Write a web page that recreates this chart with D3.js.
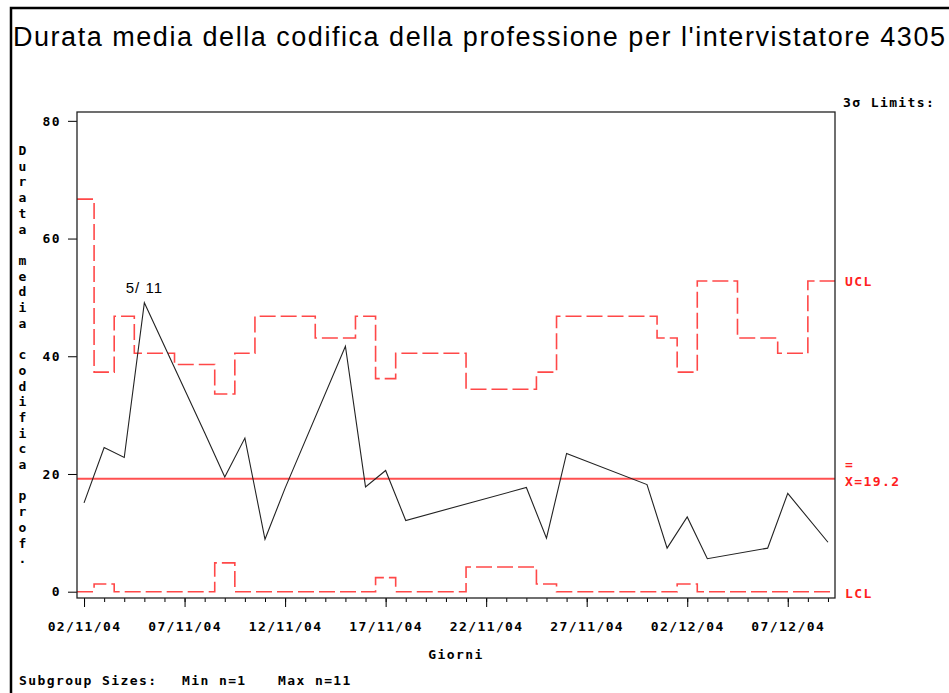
<!DOCTYPE html>
<html>
<head>
<meta charset="utf-8">
<script src="https://cdn.jsdelivr.net/npm/d3@7"></script>
<style>
  body { margin: 0; background: #fff; }
  svg { display: block; }
  .sas { font-family: "DejaVu Sans Mono", monospace; font-weight: bold; font-size: 13px; letter-spacing: 1.4px; }
</style>
</head>
<body>
<div id="chart"></div>
<script>
// Subgroup dates (dd/mm/yy)
const subgroups = ["02/11/04", "03/11/04", "04/11/04", "05/11/04", "08/11/04", "09/11/04",
  "10/11/04", "11/11/04", "12/11/04", "15/11/04", "16/11/04", "17/11/04", "18/11/04",
  "24/11/04", "25/11/04", "26/11/04", "30/11/04", "01/12/04", "02/12/04", "03/12/04",
  "06/12/04", "07/12/04", "09/12/04"];
// Subgroup means
const means = [15.1, 24.5, 22.8, 49.1, 27.0, 19.5, 26.1, 8.9, 17.6, 41.7, 17.8, 20.6, 12.1,
  17.7, 9.1, 23.5, 18.2, 7.4, 12.7, 5.6, 7.4, 16.7, 8.4];
// 3 sigma limits per subgroup
const ucl = [66.7, 37.3, 46.8, 40.5, 38.6, 33.6, 40.5, 46.8, 46.8, 43.1, 46.8, 36.2, 40.5,
  34.4, 37.3, 46.8, 46.8, 43.1, 37.3, 52.8, 43.1, 40.5, 52.8];
const lcl = [0, 1.3, 0, 0, 0, 4.9, 0, 0, 0, 0, 0, 2.4, 0,
  4.2, 1.3, 0, 0, 0, 1.3, 0, 0, 0, 0];
const centerLine = 19.2;
const yTicks = [0, 20, 40, 60, 80];

const width = 949;
const height = 693;
const plot = { left: 77, top: 112, right: 835, bottom: 598 };

const parse = d3.timeParse("%d/%m/%y");
const dates = subgroups.map(parse);
const firstDay = dates[0];
const lastDay = dates[dates.length - 1];
const pad = 0.35 * 864e5;

const x = d3.scaleTime()
  .domain([new Date(+firstDay - pad), new Date(+lastDay + pad)])
  .range([plot.left, plot.right]);
const y = d3.scaleLinear()
  .domain([-1.07, 81.5])
  .range([plot.bottom, plot.top]);

const svg = d3.select("#chart").append("svg")
  .attr("width", width)
  .attr("height", height);

// outer frame (cropped on the right and bottom)
svg.append("path")
  .attr("d", `M11,${height} V8 H${width}`)
  .attr("fill", "none")
  .attr("stroke", "#000")
  .attr("stroke-width", 2.5);

// title
svg.append("text")
  .attr("x", 13)
  .attr("y", 46)
  .attr("textLength", 932)
  .attr("lengthAdjust", "spacing")
  .style("font-family", "'Liberation Sans', Arial, sans-serif")
  .style("font-size", "27px")
  .text("Durata media della codifica della professione per l'intervistatore 4305");

// y axis
const yAxis = svg.append("g")
  .attr("class", "sas")
  .attr("transform", `translate(${plot.left},0)`)
  .call(d3.axisLeft(y).tickValues(yTicks).tickSize(9).tickPadding(7));
yAxis.select(".domain").remove();
yAxis.selectAll("line").attr("stroke", "#000");
yAxis.selectAll("text").attr("fill", "#000").attr("font-family", null).attr("font-size", null);

// x axis: minor daily ticks and major ticks every 5 days
const allDays = d3.timeDay.range(firstDay, d3.timeDay.offset(lastDay, 1));
const majorDays = allDays.filter((d, i) => i % 5 === 0);

const xMinor = svg.append("g")
  .attr("transform", `translate(0,${plot.bottom})`)
  .call(d3.axisBottom(x).tickValues(allDays).tickSize(4).tickFormat(""));
xMinor.select(".domain").remove();
xMinor.selectAll("line").attr("stroke", "#000");

const xMajor = svg.append("g")
  .attr("class", "sas")
  .attr("transform", `translate(0,${plot.bottom})`)
  .call(d3.axisBottom(x).tickValues(majorDays).tickSize(9).tickPadding(15)
    .tickFormat(d3.timeFormat("%d/%m/%y")));
xMajor.select(".domain").remove();
xMajor.selectAll("line").attr("stroke", "#000");
xMajor.selectAll("text").attr("fill", "#000").attr("font-family", null).attr("font-size", null);

// step limits: each subgroup covers the span between midpoints to its neighbours
function stepPoints(values) {
  const pts = [];
  dates.forEach((d, i) => {
    const x0 = i === 0 ? x.domain()[0] : new Date((+dates[i - 1] + +d) / 2);
    const x1 = i === dates.length - 1 ? x.domain()[1] : new Date((+d + +dates[i + 1]) / 2);
    pts.push([x0, values[i]], [x1, values[i]]);
  });
  return pts;
}
const stepLine = d3.line().x(d => x(d[0])).y(d => y(d[1]));

[ucl, lcl].forEach(values => {
  svg.append("path")
    .datum(stepPoints(values))
    .attr("d", stepLine)
    .attr("fill", "none")
    .attr("stroke", "#ff4848")
    .attr("stroke-width", 1.6)
    .attr("stroke-dasharray", "16,5");
});

// center line
svg.append("line")
  .attr("x1", plot.left)
  .attr("x2", plot.right)
  .attr("y1", y(centerLine))
  .attr("y2", y(centerLine))
  .attr("stroke", "#ff5050")
  .attr("stroke-width", 2);

// subgroup means
svg.append("path")
  .datum(means)
  .attr("d", d3.line().x((d, i) => x(dates[i])).y(d => y(d)))
  .attr("fill", "none")
  .attr("stroke", "#222")
  .attr("stroke-width", 1.1);

// label of the highest point
const peak = d3.maxIndex(means);
svg.append("text")
  .attr("x", x(dates[peak]))
  .attr("y", y(means[peak]) - 10)
  .attr("text-anchor", "middle")
  .style("font-family", "'Liberation Sans', Arial, sans-serif")
  .style("font-size", "15px")
  .style("letter-spacing", "1px")
  .text(d3.timeFormat("%-d/ %m")(dates[peak]));

// plot frame
svg.append("rect")
  .attr("x", plot.left)
  .attr("y", plot.top)
  .attr("width", plot.right - plot.left)
  .attr("height", plot.bottom - plot.top)
  .attr("fill", "none")
  .attr("stroke", "#222")
  .attr("stroke-width", 1.3);

// right side labels
const labelX = plot.right + 10;
svg.append("text").attr("class", "sas")
  .attr("x", plot.right + 8).attr("y", 107)
  .text("3σ Limits:");
svg.append("text").attr("class", "sas")
  .attr("x", labelX).attr("y", y(ucl[ucl.length - 1]) + 5)
  .attr("fill", "#ff2020").text("UCL");
svg.append("text").attr("class", "sas")
  .attr("x", labelX).attr("y", y(centerLine) - 10)
  .attr("fill", "#ff2020").text("=");
svg.append("text").attr("class", "sas")
  .attr("x", labelX).attr("y", y(centerLine) + 7)
  .attr("fill", "#ff2020").text("X=" + centerLine);
svg.append("text").attr("class", "sas")
  .attr("x", labelX).attr("y", y(lcl[lcl.length - 1]) + 6)
  .attr("fill", "#ff2020").text("LCL");

// y axis title, one character per line
const yTitle = "Durata media codifica prof.".split("");
svg.append("g").attr("class", "sas")
  .selectAll("text")
  .data(yTitle)
  .enter()
  .append("text")
  .attr("x", 23)
  .attr("y", (d, i) => 155 + i * 15.7)
  .attr("text-anchor", "middle")
  .text(d => d);

// x axis title and footnote
svg.append("text").attr("class", "sas")
  .attr("x", (plot.left + plot.right) / 2)
  .attr("y", 659)
  .attr("text-anchor", "middle")
  .text("Giorni");
svg.append("text").attr("class", "sas").attr("x", 19).attr("y", 685).text("Subgroup Sizes:");
svg.append("text").attr("class", "sas").attr("x", 182).attr("y", 685).text("Min n=1");
svg.append("text").attr("class", "sas").attr("x", 278).attr("y", 685).text("Max n=11");
</script>
</body>
</html>
